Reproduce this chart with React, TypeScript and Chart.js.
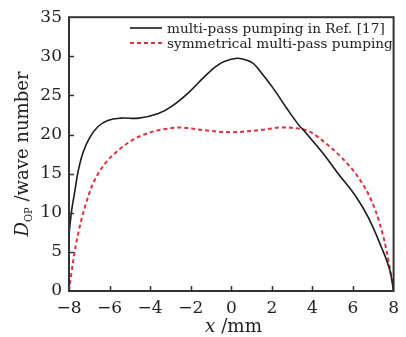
import React, { useEffect, useRef } from "react";
import { Chart, registerables } from "chart.js";

Chart.register(...registerables);

const FONT = "'DejaVu Serif', 'Liberation Serif', serif";

// Series 1: multi-pass pumping in Ref. [17]
const refX = [-8, -7.87, -7.71, -7.55, -7.31, -6.98, -6.58, -6.09, -5.44, -4.56, -3.59, -2.94, -2.13, -1.32, -0.76, -0.35, 0.29, 0.78, 1.1, 1.42, 2.07, 2.72, 3.3, 3.68, 4.49, 5.3, 6.11, 6.75, 7.4, 7.81, 8];
const refY = [7.2, 10.3, 12.8, 15.3, 17.7, 19.6, 21.0, 21.8, 22.1, 22.1, 22.7, 23.6, 25.3, 27.4, 28.7, 29.35, 29.75, 29.5, 29.05, 28.1, 25.9, 23.4, 21.3, 20.2, 17.7, 14.9, 12.2, 9.4, 5.6, 2.7, 0];

// Series 2: symmetrical multi-pass pumping
const symX = [-8, -7.79, -7.55, -7.22, -6.82, -6.25, -5.61, -4.8, -3.83, -3.02, -2.5, -1.5, 0, 1.5, 2.5, 3.2, 3.85, 4.65, 5.46, 6.27, 6.92, 7.32, 7.65, 7.89, 8];
const symY = [0, 3.9, 7.3, 10.7, 13.7, 16.2, 17.9, 19.4, 20.4, 20.8, 20.9, 20.6, 20.3, 20.6, 20.9, 20.8, 20.4, 18.9, 17.0, 14.5, 11.5, 8.6, 5.2, 1.8, 0];

const seriesLabels = ["multi-pass pumping in Ref. [17]", "symmetrical multi-pass pumping"];
const xTicks = [-8, -6, -4, -2, 0, 2, 4, 6, 8];
const yTicks = [0, 5, 10, 15, 20, 25, 30, 35];

const BLACK = "#1a1a1a";
const RED = "#e0303c";

function fitSize(ctx: any, text: string, style: string, target: number) {
  ctx.font = `${style} 20px ${FONT}`;
  return (20 * target) / ctx.measureText(text).width;
}

const decorPlugin = {
  id: "decor",
  afterDraw(chart: any) {
    const { ctx, chartArea: a, scales } = chart;
    ctx.save();
    // inward ticks
    ctx.strokeStyle = "#333";
    ctx.lineWidth = 1.5;
    ctx.beginPath();
    xTicks.forEach((v) => {
      if (v <= -8 || v >= 8) return;
      const px = Math.round(scales.x.getPixelForValue(v)) + 0.5;
      ctx.moveTo(px, a.bottom);
      ctx.lineTo(px, a.bottom - 5);
    });
    yTicks.forEach((v) => {
      if (v <= 0 || v >= 35) return;
      const py = Math.round(scales.y.getPixelForValue(v)) + 0.5;
      ctx.moveTo(a.left, py);
      ctx.lineTo(a.left + 5, py);
    });
    ctx.stroke();
    // frame
    ctx.lineWidth = 2;
    ctx.strokeStyle = "#333";
    ctx.strokeRect(a.left, a.top, a.right - a.left, a.bottom - a.top);

    // legend
    const s1 = fitSize(ctx, seriesLabels[0], "", 216);
    const s2 = fitSize(ctx, seriesLabels[1], "", 228);
    const ls = (s1 + s2) / 2;
    ctx.font = `${ls}px ${FONT}`;
    ctx.fillStyle = "#222";
    ctx.textBaseline = "middle";
    const lx0 = 130, lx1 = 162, tx = 167;
    const rows = [28, 43];
    ctx.lineWidth = 1.6;
    ctx.strokeStyle = BLACK;
    ctx.setLineDash([]);
    ctx.beginPath();
    ctx.moveTo(lx0, rows[0]);
    ctx.lineTo(lx1, rows[0]);
    ctx.stroke();
    ctx.fillText(seriesLabels[0], tx, rows[0] + 1);
    ctx.strokeStyle = RED;
    ctx.lineWidth = 2;
    ctx.setLineDash([4, 3]);
    ctx.beginPath();
    ctx.moveTo(lx0, rows[1]);
    ctx.lineTo(lx1, rows[1]);
    ctx.stroke();
    ctx.setLineDash([]);
    ctx.fillText(seriesLabels[1], tx, rows[1] + 1);

    // x title
    ctx.fillStyle = "#222";
    ctx.textBaseline = "alphabetic";
    const xs = 19;
    ctx.font = `italic ${xs}px ${FONT}`;
    const wX = ctx.measureText("x").width;
    ctx.font = `${xs}px ${FONT}`;
    const rest = " /mm";
    const wR = ctx.measureText(rest).width;
    const sx = 205;
    const sc = 57 / (wX + wR);
    ctx.save();
    ctx.translate(sx, 332);
    ctx.scale(sc, 1);
    ctx.font = `italic ${xs}px ${FONT}`;
    ctx.fillText("x", 0, 0);
    ctx.font = `${xs}px ${FONT}`;
    ctx.fillText(rest, wX, 0);
    ctx.restore();

    // y title (rotated)
    ctx.translate(28, 154);
    ctx.rotate(-Math.PI / 2);
    const ys = 19;
    ctx.font = `italic ${ys}px ${FONT}`;
    const wD = ctx.measureText("D").width;
    ctx.font = `${ys * 0.55}px ${FONT}`;
    const wS = ctx.measureText("OP").width;
    ctx.font = `${ys}px ${FONT}`;
    const wT = ctx.measureText(" /wave number").width;
    const tot = wD + wS + wT;
    const ysc = 165 / tot;
    ctx.scale(ysc, 1);
    const yx = -tot / 2;
    ctx.font = `italic ${ys}px ${FONT}`;
    ctx.fillText("D", yx, 0);
    ctx.font = `${ys * 0.55}px ${FONT}`;
    ctx.fillText("OP", yx + wD, 4);
    ctx.font = `${ys}px ${FONT}`;
    ctx.fillText(" /wave number", yx + wD + wS, 0);
    ctx.restore();
  },
};

export default function App() {
  const ref = useRef<HTMLCanvasElement>(null);
  useEffect(() => {
    const canvas = ref.current!;
    const chart = new Chart(canvas, {
      type: "line",
      data: {
        datasets: [
          {
            label: seriesLabels[0],
            data: refX.map((x, i) => ({ x, y: refY[i] })),
            borderColor: BLACK,
            borderWidth: 1.6,
            pointRadius: 0,
            tension: 0.4,
            fill: false,
          },
          {
            label: seriesLabels[1],
            data: symX.map((x, i) => ({ x, y: symY[i] })),
            borderColor: RED,
            borderWidth: 2,
            borderDash: [4, 3],
            pointRadius: 0,
            cubicInterpolationMode: "monotone",
            fill: false,
          },
        ],
      },
      options: {
        animation: false,
        responsive: false,
        maintainAspectRatio: false,
        layout: { padding: { top: 15, right: 7, left: 0, bottom: 0 } },
        plugins: { legend: { display: false }, tooltip: { enabled: false } },
        scales: {
          x: {
            type: "linear",
            min: -8,
            max: 8,
            afterBuildTicks: (s: any) => {
              s.ticks = xTicks.map((v) => ({ value: v }));
            },
            afterFit: (s: any) => {
              s.height = 46;
            },
            grid: { display: false, drawTicks: false },
            border: { display: false },
            ticks: {
              padding: 7,
              color: "#222",
              font: { family: FONT, size: 17 },
              maxRotation: 0,
              callback: (v: any) => String(v).replace("-", "\u2212"),
            },
          },
          y: {
            type: "linear",
            min: 0,
            max: 35,
            afterBuildTicks: (s: any) => {
              s.ticks = yTicks.map((v) => ({ value: v }));
            },
            afterFit: (s: any) => {
              s.width = 69;
            },
            grid: { display: false, drawTicks: false },
            border: { display: false },
            ticks: {
              padding: 7,
              color: "#222",
              font: { family: FONT, size: 17 },
            },
          },
        },
      },
      plugins: [decorPlugin],
    });
    return () => chart.destroy();
  }, []);
  return (
    <div style={{ position: "fixed", left: 0, top: 0, width: 406, height: 337, background: "#fff" }}>
      <canvas ref={ref} width={406} height={337} style={{ width: 406, height: 337 }} />
    </div>
  );
}
